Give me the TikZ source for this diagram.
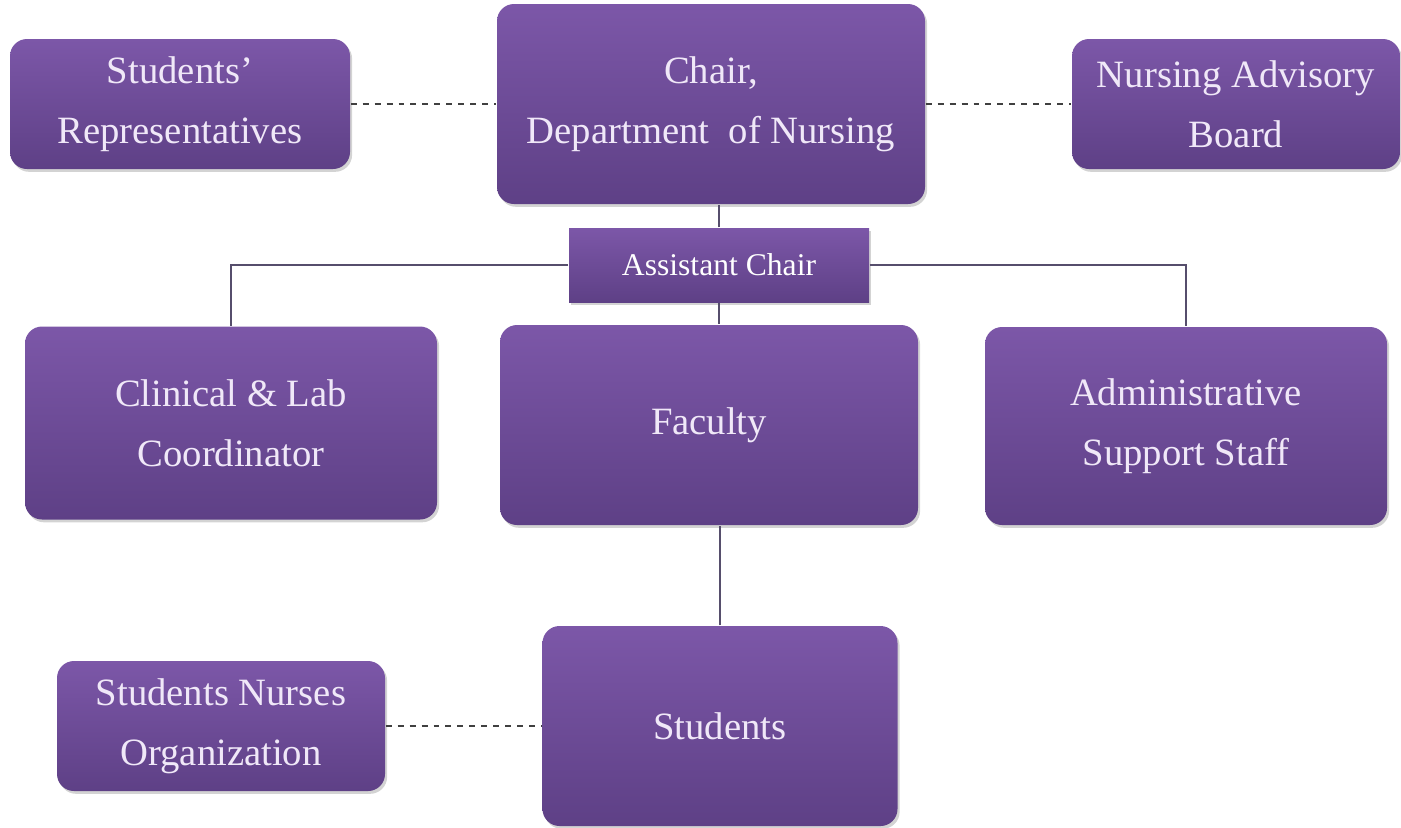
\documentclass[tikz,border=0pt]{standalone}
\usepackage{fontspec}
\setmainfont{Liberation Serif}
\usetikzlibrary{shadows}
\definecolor{boxtop}{RGB}{124,87,168}
\definecolor{boxbot}{RGB}{94,64,134}
\definecolor{boxtext}{RGB}{240,232,248}
\definecolor{link}{RGB}{86,78,108}
\begin{document}
\begin{tikzpicture}[box/.style={rounded corners=0.17cm,top color=boxtop,bottom color=boxbot,draw=none,
      drop shadow={shadow xshift=0.6pt,shadow yshift=-0.8pt,opacity=0.35},text=boxtext,align=center,
      font=\fontsize{11}{17}\selectfont},
    flat/.style={box,rounded corners=0pt,text=white,font=\fontsize{9}{11}\selectfont},
    tie/.style={draw=link,line width=0.8pt},
    loose/.style={draw=black!75,line width=0.6pt,dash pattern=on 1.7pt off 1.7pt}]
    \useasboundingbox (0,0) rectangle (14.01,8.27);

    \node[box,minimum width=3.40cm,minimum height=1.30cm] (studrep) at (1.80,7.23) {Students'\\Representatives};
    \node[box,minimum width=4.28cm,minimum height=2.00cm] (chair) at (7.11,7.23) {Chair,\\Department\ \ of Nursing};
    \node[box,minimum width=3.28cm,minimum height=1.30cm] (board) at (12.36,7.23) {Nursing Advisory\\Board};
    \node[flat,minimum width=3.00cm,minimum height=0.74cm] (asst) at (7.19,5.62) {Assistant Chair};

    \node[box,minimum width=4.12cm,minimum height=1.93cm] (clinical) at (2.31,4.04) {Clinical \& Lab\\Coordinator};
    \node[box,minimum width=4.18cm,minimum height=2.00cm] (faculty) at (7.09,4.02) {Faculty};
    \node[box,minimum width=4.02cm,minimum height=1.98cm] (admin) at (11.86,4.01) {Administrative\\Support Staff};

    \node[box,minimum width=3.28cm,minimum height=1.30cm] (sno) at (2.21,1.01) {Students Nurses\\Organization};
    \node[box,minimum width=3.55cm,minimum height=2.00cm] (students) at (7.20,1.01) {Students};

    \draw[loose] (studrep.east) -- (chair.west);
    \draw[loose] (chair.east) -- (board.west);
    \draw[loose] (sno.east) -- (students.west);

    \draw[tie] (asst.north) -- (asst.north |- chair.south);
    \draw[tie] (asst.south) -- (asst.south |- faculty.north);
    \draw[tie] (asst.west) -| (clinical.north);
    \draw[tie] (asst.east) -| (admin.north);
    \draw[tie] (students.north) -- (students.north |- faculty.south);
\end{tikzpicture}
\end{document}
